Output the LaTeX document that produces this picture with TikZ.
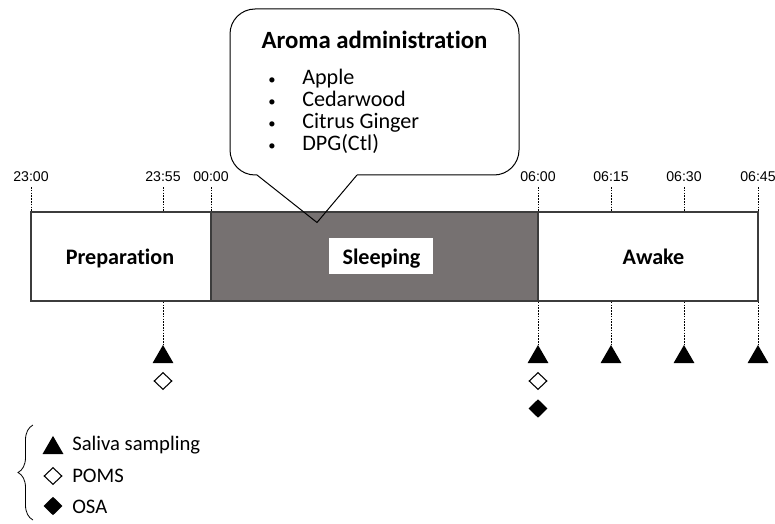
\documentclass[tikz,border=0pt]{standalone}
\usepackage{fontspec}
\setmainfont{Carlito}[Ligatures=NoCommon]
\newfontfamily\timefont{Liberation Sans}
\usetikzlibrary{shapes.geometric,decorations.pathreplacing}
\definecolor{sleepgray}{RGB}{118,113,113}
\definecolor{edgegray}{RGB}{60,60,60}
\begin{document}
\begin{tikzpicture}[x=0.75pt,y=-0.75pt,
  phase/.style={draw=edgegray, line width=1.1pt, inner sep=0pt, minimum height=66.75pt},
  phaselbl/.style={inner sep=0pt, anchor=base, font=\fontsize{16.6}{18}\selectfont\bfseries},
  timelbl/.style={inner sep=0pt, anchor=base, font=\timefont\fontsize{10.6}{12}\selectfont},
  tick/.style={draw=black, line width=0.75pt, dash pattern=on 1.2pt off 0.9pt},
  tri/.style={regular polygon, regular polygon sides=3, fill=black, inner sep=0pt, minimum size=18.15pt},
  opendia/.style={diamond, draw=black, line width=0.8pt, fill=white, inner sep=0pt, minimum width=13.5pt, minimum height=12.8pt},
  filldia/.style={diamond, fill=black, inner sep=0pt, minimum width=14.25pt, minimum height=14pt},
  itemtxt/.style={inner sep=0pt, anchor=base west, font=\fontsize{16.6}{18}\selectfont},
  legtxt/.style={inner sep=0pt, anchor=base west, font=\fontsize{15.5}{18}\selectfont},
  balloon/.style={draw=black, line width=0.75pt}
]
\useasboundingbox (0,0) rectangle (775,524);

% phase bars
\node[phase, minimum width=135pt] (prep) at (121,256.5) {};
\node[phase, fill=sleepgray, minimum width=245.25pt] (sleep) at (374.5,256.5) {};
\node[phase, minimum width=165pt] (awake) at (648,256.5) {};
\node[phaselbl] (preplbl) at (120,265) {Preparation};
\node[fill=white, inner sep=0pt, minimum width=78pt, minimum height=27pt] (sleepbox) at (381,256) {};
\node[phaselbl] (sleeplbl) at (381.5,265) {Sleeping};
\node[phaselbl] (awakelbl) at (653.5,265) {Awake};

% clock times and their guide lines
\foreach \x/\t/\n in {31/23:00/a, 163/23:55/b, 211/00:00/c, 538/06:00/d, 611/06:15/e, 684/06:30/f, 758/06:45/g}
  \node[timelbl] (t\n) at (\x,182) {\t};
\foreach \n in {a,b,c,d,e,f,g}
  \draw[tick] ([yshift=-3.5pt]t\n.south) -- (t\n |- prep.north);

% sampling markers
\foreach \x/\n in {163/b, 538/d, 611/e, 684/f, 758/g}
  \node[tri] (m\n) at (\x,357.1) {};
\foreach \n in {b,d,e,f,g}
  \draw[tick] (t\n |- prep.south) -- (m\n.north);
\node[opendia] (pb) at (163,381) {};
\node[opendia] (pd) at (538,381) {};
\node[filldia] (od) at (538,408.5) {};

% speech balloon
\coordinate (baseL) at (257,175);
\coordinate (baseR) at (357,175);
\coordinate (tip) at (317,222.5);
\draw[balloon, rounded corners=18.75pt] (baseL) -- (230,175) -- (230,9) -- (519,9) -- (519,175) -- (baseR);
\draw[balloon, line join=miter] (baseL) -- (tip) -- (baseR);
\node[inner sep=0pt, anchor=base, font=\fontsize{18.6}{20}\selectfont\bfseries] (title) at (374.5,48.5) {Aroma administration};
\foreach \y/\s [count=\i] in {84.5/{Apple}, 106.5/{Cedarwood}, 128.5/{Citrus Ginger}, 150.5/{DPG(Ctl)}} {
  \node[inner sep=0pt, anchor=base, font=\fontsize{11}{12}\selectfont] (bul\i) at (272,\y) {\textbullet};
  \node[itemtxt] (item\i) at (302,\y) {\s};
}

% legend
\coordinate (bracebot) at (33,520);
\coordinate (bracetop) at (33,425);
\draw[decorate, decoration={brace, amplitude=11.25pt}, line width=0.6pt] (bracebot) -- (bracetop);
\node[tri] (legtri) at (53,448) {};
\node[opendia] (legopen) at (53,476) {};
\node[filldia] (legfill) at (53,506) {};
\node[legtxt] (legtxt1) at (72,450) {Saliva sampling};
\node[legtxt] (legtxt2) at (72,482) {POMS};
\node[legtxt] (legtxt3) at (72,513) {OSA};
\end{tikzpicture}
\end{document}
